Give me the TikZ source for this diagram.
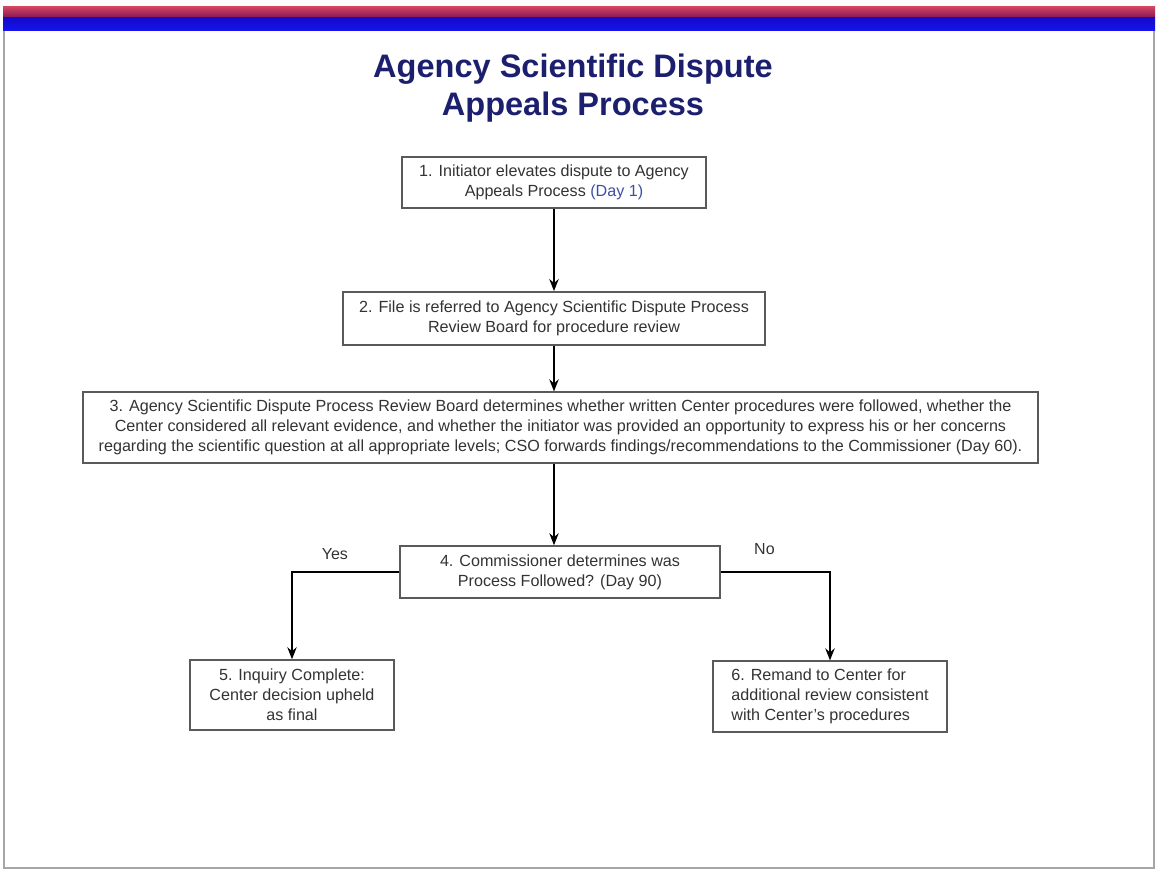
\documentclass[tikz,border=0pt]{standalone}
\usepackage{fontspec}
\setmainfont{Liberation Sans}
\usetikzlibrary{arrows.meta,positioning,calc}
\definecolor{navy}{HTML}{1B1F6E}
\definecolor{txt}{HTML}{333333}
\definecolor{dayblue}{HTML}{3F4FA0}
\definecolor{edge}{HTML}{5A5A5A}
\begin{document}
\begin{tikzpicture}[x=0.75pt,y=-0.75pt,>={Stealth[length=9pt,width=7pt]},
  box/.style={draw=edge,line width=1.1pt,fill=white,text=txt,align=center,font=\fontsize{12.1}{15}\selectfont,inner sep=0pt},
  flow/.style={->,line width=1.7pt},
  lbl/.style={text=txt,font=\fontsize{12}{13}\selectfont}]
\useasboundingbox (0,0) rectangle (1158,871);
% page frame and header bars
\draw[gray!70,line width=1.2pt] (4,30) -- (4,868) -- (1154,868) -- (1154,30);
\shade[top color={rgb,255:red,214;green,72;blue,96},bottom color={rgb,255:red,140;green,24;blue,90}] (3,6) rectangle (1155,17);
\shade[top color={rgb,255:red,20;green,10;blue,200},bottom color={rgb,255:red,20;green,20;blue,235}] (3,17) rectangle (1155,30);
% title
\node[text=navy,font=\fontsize{24.4}{28}\selectfont\bfseries,align=center] (title) at (573,88) {Agency Scientific Dispute\\Appeals Process};
% steps
\node[box,minimum width=228pt,minimum height=38pt] (init) at (554,182.5) {1. Initiator elevates dispute to Agency\\Appeals Process {\color{dayblue}(Day 1)}};
\node[box,minimum width=316.5pt,minimum height=40pt] (refer) at (554,318.5) {2. File is referred to Agency Scientific Dispute Process\\Review Board for procedure review};
\node[box,minimum width=716pt,minimum height=53pt] (board) at (560.5,427.5) {3. Agency Scientific Dispute Process Review Board determines whether written Center procedures were followed, whether the\\Center considered all relevant evidence, and whether the initiator was provided an opportunity to express his or her concerns\\regarding the scientific question at all appropriate levels; CSO forwards findings/recommendations to the Commissioner (Day 60).};
\node[box,minimum width=240pt,minimum height=39pt] (comm) at (560,572) {4. Commissioner determines was\\Process Followed? (Day 90)};
\node[box,minimum width=153pt,minimum height=52.5pt] (done) at (292,695) {5. Inquiry Complete:\\Center decision upheld\\as final};
\node[box,align=left,minimum width=175.5pt,minimum height=53pt] (remand) at (830,696.5) {6. Remand to Center for\\additional review consistent\\with Center's procedures};
% connectors
\draw[flow] (init) -- (refer);
\draw[flow] (refer) -- (board.north -| refer);
\draw[flow] (board.south -| refer) -- (comm.north -| refer);
\draw[flow] (comm.west) -| node[lbl,pos=0.3,above=5pt] (yes) {Yes} (done.north);
\draw[flow] (comm.east) -| node[lbl,pos=0.2,above=9pt] (no) {No} (remand.north);
\end{tikzpicture}
\end{document}
